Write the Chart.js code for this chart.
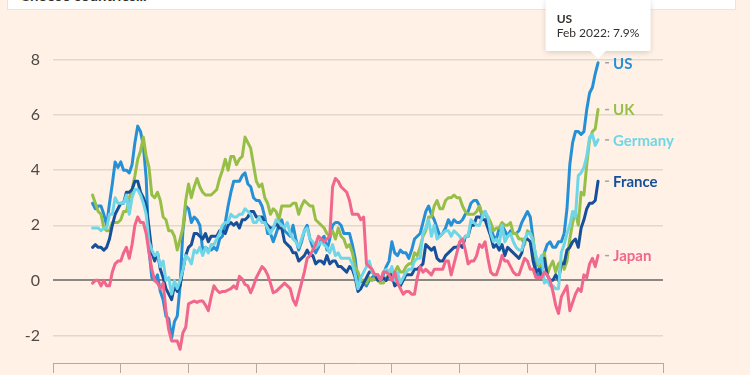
<!DOCTYPE html>
<html lang="en">
<head>
<meta charset="utf-8">
<title>Inflation</title>
<script src="https://cdn.jsdelivr.net/npm/chart.js@4.4.1/dist/chart.umd.min.js"></script>
<style>
    html, body {
        margin: 0;
        padding: 0;
        background: #fff1e5;
        overflow: hidden;
    }
    #wrap {
        position: relative;
        width: 750px;
        height: 375px;
    }
    #picker {
        position: absolute;
        left: 7px;
        top: -22px;
        width: 729px;
        height: 32px;
        background: #fff;
        border: 1px solid #ece4dc;
        box-sizing: border-box;
        font-family: Lato, sans-serif;
        font-size: 15px;
        font-weight: bold;
        color: #33302e;
        padding: 9px 0 0 12px;
        line-height: 15px;
        overflow: hidden;
        z-index: 0;
    }
    #chart {
        position: absolute;
        left: 0;
        top: 0;
        z-index: 1;
    }
</style>
</head>
<body>
<div id="wrap">
    <div id="picker">Choose countries...</div>
    <canvas id="chart" width="750" height="375"></canvas>
</div>
<script>
// 軸の目盛り
const xTicks = [2006, 2008, 2010, 2012, 2014, 2016, 2018, 2020, 2022, 2024];
const yTicks = [-2, 0, 2, 4, 6, 8];
const monthNames = ['Jan', 'Feb', 'Mar', 'Apr', 'May', 'Jun', 'Jul', 'Aug', 'Sep', 'Oct', 'Nov', 'Dec'];

// データは 2007年3月 〜 2022年2月 (月次, 前年比 %)
const startYear = 2007;
const startMonth = 2; // 0 = Jan

const usValues = [
    2.8, 2.6, 2.7, 2.7, 2.4, 2.0, 2.8, 3.5, 4.3, 4.1,
    4.3, 4.0, 4.0, 3.9, 4.2, 5.0, 5.6, 5.4, 4.9, 3.7, 1.1, 0.1,
    0.0, 0.2, -0.4, -0.7, -1.3, -1.4, -2.1, -1.5, -1.3, -0.2, 1.8, 2.7,
    2.6, 2.1, 2.3, 2.2, 2.0, 1.1, 1.2, 1.1, 1.1, 1.2, 1.1, 1.5,
    1.6, 2.1, 2.7, 3.2, 3.6, 3.6, 3.6, 3.8, 3.9, 3.5, 3.4, 3.0,
    2.9, 2.9, 2.7, 2.3, 1.7, 1.7, 1.4, 1.7, 2.0, 2.2, 1.8, 1.7,
    1.6, 2.0, 1.5, 1.1, 1.4, 1.8, 2.0, 1.5, 1.2, 1.0, 1.2, 1.5,
    1.6, 1.1, 1.5, 2.0, 2.1, 2.1, 2.0, 1.7, 1.7, 1.7, 1.3, 0.8,
    -0.1, 0.0, -0.1, -0.2, 0.0, 0.1, 0.2, 0.2, 0.0, 0.2, 0.5, 0.7,
    1.4, 1.0, 0.9, 1.1, 1.0, 1.0, 0.8, 1.1, 1.5, 1.6, 1.7, 2.1,
    2.5, 2.7, 2.4, 2.2, 1.9, 1.6, 1.7, 1.9, 2.2, 2.0, 2.2, 2.1,
    2.1, 2.2, 2.4, 2.5, 2.8, 2.9, 2.9, 2.7, 2.3, 2.5, 2.2, 1.9,
    1.6, 1.5, 1.9, 2.0, 1.8, 1.6, 1.8, 1.7, 1.7, 1.8, 2.1, 2.3,
    2.5, 2.3, 1.5, 0.3, 0.1, 0.6, 1.0, 1.3, 1.4, 1.2, 1.2, 1.4,
    1.4, 1.7, 2.6, 4.2, 5.0, 5.4, 5.4, 5.3, 5.4, 6.2, 6.8, 7.0,
    7.5, 7.9
];

const ukValues = [
    3.1, 2.8, 2.5, 2.4, 1.9, 1.8, 1.8, 2.1, 2.1, 2.1,
    2.2, 2.5, 2.5, 3.0, 3.3, 3.8, 4.4, 4.7, 5.2, 4.5, 4.1, 3.1,
    3.0, 3.2, 2.9, 2.3, 2.2, 1.8, 1.8, 1.6, 1.1, 1.5, 1.9, 2.9,
    3.5, 3.0, 3.4, 3.7, 3.4, 3.2, 3.1, 3.1, 3.1, 3.2, 3.3, 3.7,
    4.0, 4.4, 4.0, 4.5, 4.5, 4.2, 4.4, 4.5, 5.2, 5.0, 4.8, 4.2,
    3.6, 3.4, 3.5, 3.0, 2.8, 2.4, 2.6, 2.5, 2.2, 2.7, 2.7, 2.7,
    2.7, 2.8, 2.8, 2.4, 2.7, 2.9, 2.8, 2.7, 2.7, 2.2, 2.1, 2.0,
    1.9, 1.7, 1.6, 1.8, 1.5, 1.9, 1.6, 1.5, 1.2, 1.3, 1.0, 0.5,
    0.3, 0.0, 0.0, -0.1, 0.1, 0.0, 0.1, 0.0, -0.1, -0.1, 0.1, 0.2,
    0.3, 0.3, 0.5, 0.3, 0.3, 0.5, 0.6, 0.6, 1.0, 0.9, 1.2, 1.6,
    1.8, 2.3, 2.3, 2.7, 2.9, 2.6, 2.6, 2.9, 3.0, 3.0, 3.1, 3.0,
    3.0, 2.7, 2.5, 2.4, 2.4, 2.4, 2.5, 2.7, 2.4, 2.4, 2.3, 2.1,
    1.8, 1.9, 1.9, 2.1, 2.0, 2.0, 2.1, 1.7, 1.7, 1.5, 1.5, 1.3,
    1.8, 1.7, 1.5, 0.8, 0.5, 0.6, 1.0, 0.2, 0.5, 0.7, 0.3, 0.6,
    0.7, 0.4, 0.7, 1.5, 2.1, 2.5, 2.0, 3.2, 3.1, 4.2, 5.1, 5.4,
    5.5, 6.2
];

const germanyValues = [
    1.9, 1.9, 1.9, 1.8, 1.9, 1.9, 2.4, 2.4, 3.0, 2.8,
    2.8, 2.8, 3.1, 2.4, 3.0, 3.3, 3.3, 3.1, 2.8, 2.4, 1.4, 1.1,
    0.9, 1.0, 0.5, 0.7, 0.0, 0.1, -0.5, 0.0, -0.3, 0.0, 0.4, 0.9,
    0.8, 0.6, 1.1, 1.0, 1.2, 0.9, 1.2, 1.0, 1.3, 1.3, 1.5, 1.7,
    2.0, 2.1, 2.1, 2.4, 2.3, 2.3, 2.4, 2.4, 2.6, 2.5, 2.4, 2.1,
    2.1, 2.3, 2.1, 2.1, 1.9, 1.7, 1.9, 2.2, 2.1, 2.0, 1.9, 2.1,
    1.7, 1.5, 1.4, 1.2, 1.5, 1.8, 1.9, 1.5, 1.4, 1.2, 1.3, 1.4,
    1.3, 1.2, 1.0, 1.3, 0.9, 1.0, 0.8, 0.8, 0.8, 0.8, 0.6, 0.2,
    -0.3, 0.1, 0.3, 0.5, 0.7, 0.3, 0.2, 0.2, 0.0, 0.3, 0.4, 0.3,
    0.5, 0.0, 0.3, -0.1, 0.1, 0.3, 0.4, 0.4, 0.7, 0.8, 0.8, 1.7,
    1.9, 2.2, 1.6, 2.0, 1.5, 1.6, 1.7, 1.8, 1.8, 1.6, 1.8, 1.7,
    1.6, 1.4, 1.6, 1.6, 2.2, 2.1, 2.0, 2.0, 2.3, 2.5, 2.3, 1.7,
    1.4, 1.5, 1.3, 2.0, 1.4, 1.6, 1.7, 1.4, 1.2, 1.1, 1.1, 1.5,
    1.7, 1.7, 1.4, 0.9, 0.6, 0.9, -0.1, 0.0, -0.2, -0.2, -0.3, -0.3,
    1.0, 1.3, 1.7, 2.0, 2.5, 2.3, 3.8, 3.9, 4.1, 4.5, 5.2, 5.3,
    4.9, 5.1
];

const franceValues = [
    1.2, 1.3, 1.2, 1.2, 1.1, 1.2, 1.5, 2.0, 2.4, 2.6,
    2.8, 2.8, 3.2, 3.2, 3.3, 3.6, 3.6, 3.2, 3.0, 2.7, 1.9, 1.0,
    0.7, 1.0, 0.4, 0.1, -0.3, -0.5, -0.7, -0.2, -0.4, -0.2, 0.4, 0.9,
    1.2, 1.3, 1.7, 1.7, 1.6, 1.5, 1.7, 1.4, 1.6, 1.6, 1.6, 1.8,
    1.8, 1.7, 2.0, 2.1, 2.0, 2.1, 1.9, 2.2, 2.2, 2.3, 2.5, 2.5,
    2.3, 2.3, 2.3, 2.1, 2.0, 1.9, 1.9, 2.1, 1.9, 1.9, 1.4, 1.3,
    1.2, 1.0, 1.0, 0.7, 0.8, 0.9, 1.1, 0.9, 0.9, 0.6, 0.7, 0.7,
    0.6, 0.9, 0.6, 0.7, 0.7, 0.5, 0.5, 0.4, 0.3, 0.5, 0.4, 0.1,
    -0.4, -0.3, -0.1, 0.1, 0.3, 0.3, 0.2, 0.0, 0.0, 0.1, 0.0, 0.2,
    0.2, -0.2, -0.1, -0.2, 0.0, 0.2, 0.2, 0.2, 0.4, 0.4, 0.5, 0.6,
    1.3, 1.2, 1.1, 1.2, 0.8, 0.7, 0.7, 0.9, 1.0, 1.1, 1.2, 1.2,
    1.3, 1.2, 1.6, 1.6, 2.0, 2.0, 2.3, 2.3, 2.2, 2.2, 1.9, 1.6,
    1.2, 1.3, 1.1, 1.3, 0.9, 1.2, 1.1, 1.0, 0.9, 0.8, 1.0, 1.5,
    1.5, 1.4, 0.7, 0.3, 0.4, 0.2, 0.8, 0.2, 0.0, 0.0, 0.2, 0.0,
    0.6, 0.6, 1.1, 1.2, 1.4, 1.5, 1.2, 1.9, 2.2, 2.6, 2.8, 2.8,
    2.9, 3.6
];

const japanValues = [
    -0.1, 0.0, 0.0, -0.2, 0.0, -0.2, -0.2, 0.3, 0.6, 0.7,
    0.7, 1.0, 1.2, 0.8, 1.3, 2.0, 2.3, 2.1, 2.1, 1.7, 1.0, 0.4,
    0.0, -0.1, -0.3, -0.1, -1.1, -1.8, -2.2, -2.2, -2.2, -2.5, -1.9, -1.7,
    -0.85, -0.8, -0.75, -0.8, -0.75, -0.75, -0.9, -1.1, -0.6, -0.2, -0.35, -0.45,
    -0.4, -0.4, -0.35, -0.3, -0.2, -0.3, 0.15, 0.05, -0.15, -0.2, -0.45, -0.2,
    0.1, 0.3, 0.5, 0.4, 0.2, -0.1, -0.45, -0.4, -0.3, -0.2, -0.1, -0.2,
    -0.3, -0.7, -0.9, -0.5, -0.1, 0.3, 0.8, 0.9, 1.1, 1.3, 1.6, 1.5,
    1.4, 1.5, 1.6, 3.4, 3.7, 3.6, 3.4, 3.3, 3.2, 2.9, 2.4, 2.4,
    2.4, 2.2, 2.3, 0.6, 0.5, 0.4, 0.2, 0.2, 0.0, 0.3, 0.3, 0.2,
    0.0, 0.3, -0.1, -0.3, -0.5, -0.4, -0.4, -0.5, -0.5, 0.1, 0.5, 0.3,
    0.4, 0.3, 0.2, 0.4, 0.4, 0.4, 0.4, 0.7, 0.7, 0.2, 0.6, 1.0,
    1.4, 1.5, 1.1, 0.6, 0.7, 0.7, 0.9, 1.3, 1.2, 1.4, 0.8, 0.3,
    0.2, 0.2, 0.5, 0.9, 0.7, 0.7, 0.5, 0.3, 0.2, 0.2, 0.5, 0.8,
    0.7, 0.4, 0.4, 0.1, 0.1, 0.1, 0.3, 0.2, 0.0, -0.4, -0.9, -1.2,
    -0.6, -0.4, -0.2, -1.1, -0.8, -0.5, -0.3, -0.4, 0.2, 0.1, 0.6, 0.8,
    0.5, 0.9
];

// 系列設定 (描画順: 先頭が下)
const series = [
    { label: 'Japan', values: japanValues, color: '#f0668d' },
    { label: 'Germany', values: germanyValues, color: '#6fd6e8' },
    { label: 'France', values: franceValues, color: '#17509a' },
    { label: 'UK', values: ukValues, color: '#96bf48' },
    { label: 'US', values: usValues, color: '#2590d6' }
];

const FONT = 'Lato, "Open Sans", sans-serif';

// 月次の x 値 (年 + 月/12)
const toX = (i) => startYear + (startMonth + i) / 12;
const monthLabel = (x) => {
    const m = Math.round((x - Math.floor(x)) * 12) % 12;
    const y = Math.floor(x + 1e-6);
    return `${monthNames[m]} ${y}`;
};

// 右端のラベル
const endLabels = {
    id: 'endLabels',
    afterDatasetsDraw(chart) {
        const ctx = chart.ctx;
        ctx.save();
        chart.data.datasets.forEach((ds, i) => {
            const meta = chart.getDatasetMeta(i);
            const pt = meta.data[meta.data.length - 1];
            const x = pt.x;
            const y = pt.y;
            ctx.strokeStyle = '#a8a29c';
            ctx.lineWidth = 1.5;
            ctx.beginPath();
            ctx.moveTo(x + 7, y);
            ctx.lineTo(x + 11, y);
            ctx.stroke();
            ctx.fillStyle = ds.borderColor;
            ctx.font = `bold 15px ${FONT}`;
            ctx.textAlign = 'left';
            ctx.textBaseline = 'middle';
            ctx.fillText(ds.label, x + 15, y + 1);
        });
        ctx.restore();
    }
};

// ツールチップの影
const tooltipShadow = {
    id: 'tooltipShadow',
    beforeTooltipDraw(chart, args) {
        const tt = args.tooltip;
        if (!tt.opacity) return;
        const ctx = chart.ctx;
        ctx.save();
        ctx.shadowColor = 'rgba(0, 0, 0, 0.18)';
        ctx.shadowBlur = 6;
        ctx.shadowOffsetY = 1;
        ctx.fillStyle = '#ffffff';
        ctx.fillRect(tt.x, tt.y, tt.width, tt.height);
        ctx.restore();
    }
};

const ctx = document.getElementById('chart').getContext('2d');
const chart = new Chart(ctx, {
    type: 'line',
    data: {
        datasets: series.map(s => ({
            label: s.label,
            data: s.values.map((v, i) => ({ x: toX(i), y: v })),
            borderColor: s.color,
            backgroundColor: s.color,
            borderWidth: 3,
            borderJoinStyle: 'round',
            borderCapStyle: 'round',
            pointRadius: 0,
            pointHoverRadius: 0,
            tension: 0,
            clip: false
        }))
    },
    options: {
        responsive: false,
        animation: false,
        events: [],
        layout: {
            padding: { top: 60, right: 87, left: 0, bottom: 0 }
        },
        scales: {
            x: {
                type: 'linear',
                min: xTicks[0],
                max: xTicks[xTicks.length - 1],
                afterBuildTicks: (s) => { s.ticks = xTicks.map(v => ({ value: v })); },
                afterFit: (s) => {
                    s.height = 12;
                    s.paddingLeft = 0;
                    s.paddingRight = 0;
                },
                ticks: { display: false },
                grid: {
                    drawOnChartArea: false,
                    drawTicks: true,
                    tickLength: 10,
                    color: '#b3aba3',
                    lineWidth: 1
                },
                border: { display: true, color: '#b3aba3', width: 1 }
            },
            y: {
                min: -3,
                max: 8,
                afterBuildTicks: (s) => { s.ticks = yTicks.map(v => ({ value: v })); },
                afterFit: (s) => {
                    s.width = 53;
                    s.paddingTop = 0;
                    s.paddingBottom = 0;
                },
                ticks: {
                    padding: 13,
                    color: '#4f4a46',
                    font: { family: FONT, size: 16 }
                },
                grid: {
                    drawTicks: false,
                    color: (c) => c.tick && c.tick.value === 0 ? '#8c8782' : '#e2d8ce',
                    lineWidth: (c) => c.tick && c.tick.value === 0 ? 2 : 1.5
                },
                border: { display: false }
            }
        },
        plugins: {
            legend: { display: false },
            tooltip: {
                enabled: true,
                backgroundColor: '#ffffff',
                titleColor: '#33302e',
                bodyColor: '#33302e',
                titleFont: { family: FONT, size: 12, weight: 'bold' },
                bodyFont: { family: FONT, size: 12 },
                titleMarginBottom: 0,
                padding: { top: 12, bottom: 10, left: 11, right: 11 },
                caretSize: 8,
                caretPadding: 7,
                cornerRadius: 3,
                displayColors: false,
                xAlign: 'center',
                yAlign: 'bottom',
                callbacks: {
                    title: (items) => items[0].dataset.label,
                    label: (item) => `${monthLabel(item.parsed.x)}: ${item.parsed.y.toFixed(1)}%`
                }
            }
        }
    },
    plugins: [endLabels, tooltipShadow]
});

// ツールチップを US の最新値に固定表示
const usIndex = series.findIndex(s => s.label === 'US');
const lastIndex = usValues.length - 1;
const lastPt = chart.getDatasetMeta(usIndex).data[lastIndex];
chart.tooltip.setActiveElements([{ datasetIndex: usIndex, index: lastIndex }], { x: lastPt.x, y: lastPt.y });
chart.update();
</script>
</body>
</html>
